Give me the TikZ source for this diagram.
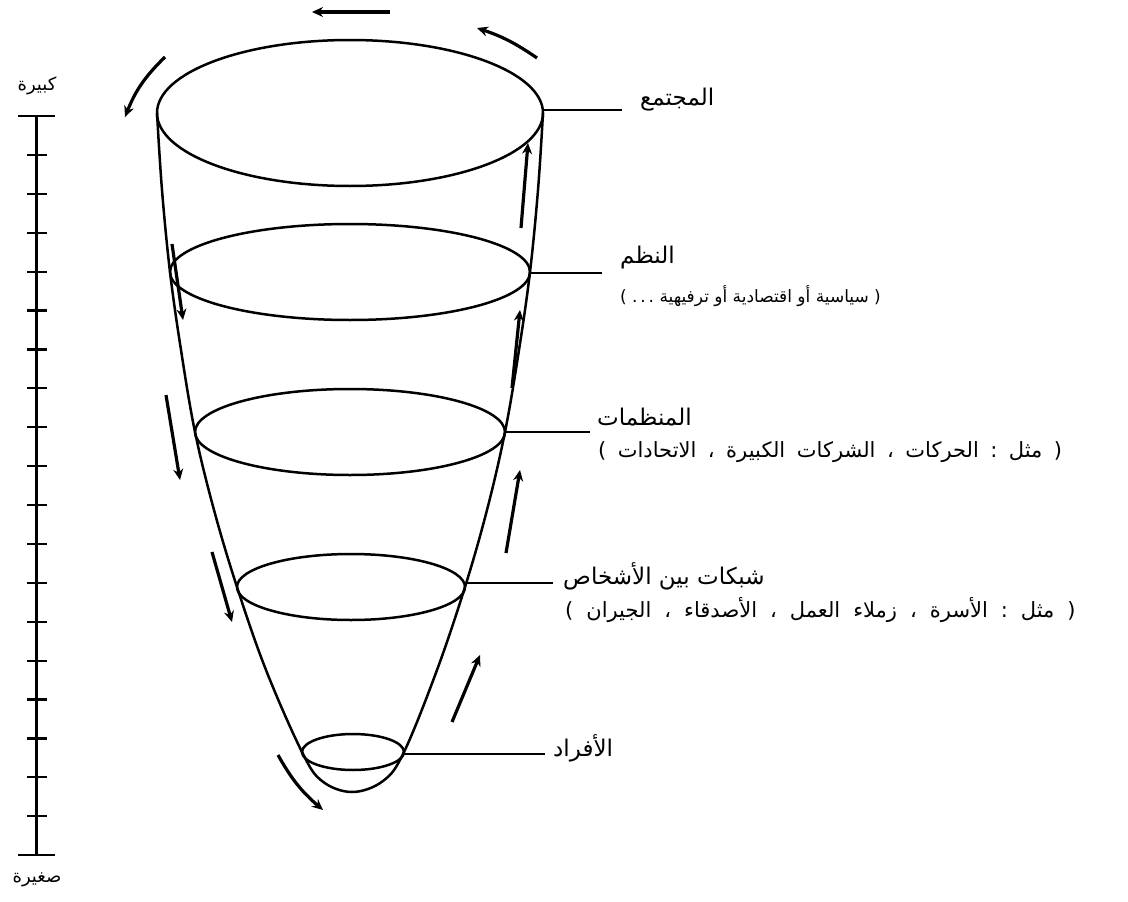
\documentclass[tikz,border=0pt]{standalone}
\usepackage{fontspec}
\newfontfamily\arabicfont[Script=Arabic]{DejaVu Sans}
\usetikzlibrary{arrows.meta}
% one shaped word per box
\newcommand\aw[1]{\mbox{#1}}
\newcommand\gpa{\hspace{11.5pt}}
\newcommand\gpb{\hspace{13pt}}
\tikzset{
  shape line/.style={line width=2.5pt, line join=round},
  flow/.style={line width=3.2pt, -{Stealth[length=11pt,width=10pt]}},
  leader/.style={line width=2pt},
  mainlbl/.style={font=\arabicfont\fontsize{23}{26}\selectfont, inner sep=0pt, anchor=west},
  sublbl/.style={font=\arabicfont\fontsize{21}{24}\selectfont, inner sep=0pt, anchor=west},
  scalelbl/.style={font=\arabicfont\fontsize{18}{20}\selectfont, inner sep=0pt},
}
\begin{document}
\begin{tikzpicture}[x=1pt,y=-1pt]
\useasboundingbox (0,0) rectangle (1128,902);
% cone
\draw[shape line] plot[smooth, tension=0.6] coordinates {(157,113) (162,190) (170,272) (181,350) (195,432) (214,510) (237,587) (266,670) (302,752) (322,781) (352,792) (383,781) (404,752) (437,670) (465,587) (487,510) (505,432) (519,350) (530,272) (538,190) (543,113)};
% levels
\draw[shape line] (350,113) ellipse [x radius=193pt, y radius=73pt];
\draw[shape line] (350,272) ellipse [x radius=180pt, y radius=48pt];
\draw[shape line] (350,432) ellipse [x radius=155pt, y radius=43pt];
\draw[shape line] (351,587) ellipse [x radius=114pt, y radius=33pt];
\draw[shape line] (353,752) ellipse [x radius=51pt, y radius=18pt];
% anchor points on the levels
\coordinate (e1) at (543,110);
\coordinate (e2) at (530,273);
\coordinate (e3) at (505,432);
\coordinate (e4) at (465,583);
\coordinate (e5) at (404,754);
\coordinate (t1) at (622,110);
\coordinate (t2) at (602,273);
\coordinate (t3) at (590,432);
\coordinate (t4) at (553,583);
\coordinate (t5) at (545,754);
% labels
\node[mainlbl] (l1) at (640,100) {المجتمع};
\node[mainlbl] (l2) at (620,258) {النظم};
\node[sublbl, font=\arabicfont\fontsize{17}{20}\selectfont] (s2) at (620,296) {\aw{)}\ \aw{.\,.\,.}\ \aw{ترفيهية}\ \aw{أو}\ \aw{اقتصادية}\ \aw{أو}\ \aw{سياسية}\ \aw{(}};
\node[mainlbl] (l3) at (597,417) {المنظمات};
\node[sublbl] (s3) at (598,452) {\aw{)}\gpa\aw{الاتحادات}\gpa\aw{،}\gpa\aw{الكبيرة}\gpa\aw{الشركات}\gpa\aw{،}\gpa\aw{الحركات}\gpa\aw{:}\gpa\aw{مثل}\gpa\aw{(}};
\node[mainlbl] (l4) at (563,576) {\aw{الأشخاص}\ \aw{بين}\ \aw{شبكات}};
\node[sublbl] (s4) at (565,610) {\aw{)}\gpb\aw{الجيران}\gpb\aw{،}\gpb\aw{الأصدقاء}\gpb\aw{،}\gpb\aw{العمل}\gpb\aw{زملاء}\gpb\aw{،}\gpb\aw{الأسرة}\gpb\aw{:}\gpb\aw{مثل}\gpb\aw{(}};
\node[mainlbl] (l5) at (553,748) {الأفراد};
\draw[leader] (e1) -- (t1);
\draw[leader] (e2) -- (t2);
\draw[leader] (e3) -- (t3);
\draw[leader] (e4) -- (t4);
\draw[leader] (e5) -- (t5);
% circulation arrows
\coordinate (a0s) at (390,12);  \coordinate (a0e) at (312,12);
\coordinate (a1s) at (537,58);  \coordinate (a1e) at (477,28);
\coordinate (a2s) at (165,57);  \coordinate (a2e) at (125,117);
\draw[flow] (a0s) -- (a0e);
\draw[flow] (a1s) to[bend right=8] (a1e);
\draw[flow] (a2s) to[bend right=12] (a2e);
\coordinate (r1s) at (521,228); \coordinate (r1e) at (528,143);
\coordinate (r2s) at (512,388); \coordinate (r2e) at (520,310);
\coordinate (r3s) at (506,553); \coordinate (r3e) at (520,470);
\coordinate (r4s) at (452,722); \coordinate (r4e) at (480,655);
\draw[flow] (r1s) -- (r1e);
\draw[flow] (r2s) -- (r2e);
\draw[flow] (r3s) -- (r3e);
\draw[flow] (r4s) -- (r4e);
\coordinate (b1s) at (172,244); \coordinate (b1e) at (183,320);
\coordinate (b2s) at (166,395); \coordinate (b2e) at (180,480);
\coordinate (b3s) at (212,552); \coordinate (b3e) at (232,622);
\coordinate (b4s) at (278,755); \coordinate (b4e) at (323,810);
\draw[flow] (b1s) -- (b1e);
\draw[flow] (b2s) -- (b2e);
\draw[flow] (b3s) -- (b3e);
\draw[flow] (b4s) to[bend right=10] (b4e);
% scale
\coordinate (sTop) at (36,116);
\coordinate (sBot) at (36,855);
\draw[line width=3pt] (sTop) -- (sBot);
\draw[line width=2.5pt] (18,116) -- (55,116);
\draw[line width=2.5pt] (18,855) -- (55,855);
\foreach \k in {1,...,18} {
  \draw[line width=2.2pt] (27,116+38.9*\k) -- (47,116+38.9*\k);
}
\node[scalelbl] (big) at (37,86) {كبيرة};
\node[scalelbl] (small) at (37,880) {صغيرة};
\end{tikzpicture}
\end{document}
